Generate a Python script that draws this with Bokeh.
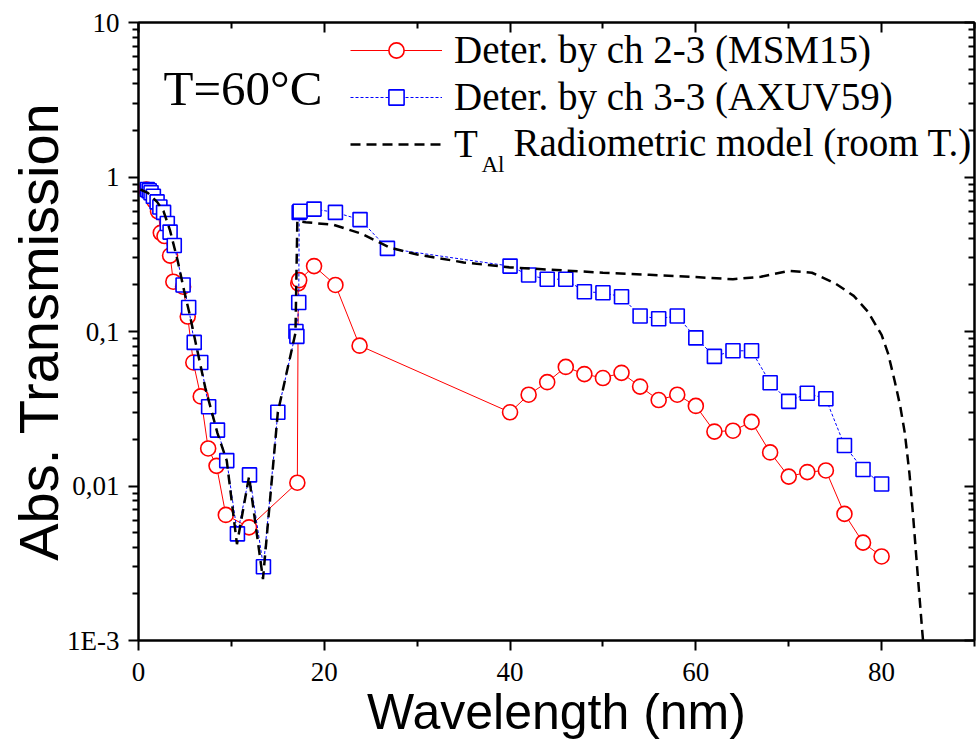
from bokeh.plotting import figure
from bokeh.models import (FixedTicker, CustomJSTickFormatter, LinearAxis, LogAxis,
                          Legend, LegendItem, Label, Range1d)
from bokeh.embed import file_html
from bokeh.resources import INLINE

# ---------------- data ----------------
RED_X = [0.85, 1.0, 1.2, 1.4, 1.7, 2.1, 2.4, 2.8, 3.4, 3.75, 4.8, 5.3, 5.9, 6.7,
         7.5, 8.4, 9.4, 11.9, 17.1, 17.2, 17.3, 18.9, 21.2, 23.8,
         40, 42, 44, 46, 48, 50, 52, 54, 56, 58, 60, 62, 64, 66, 68, 70, 72, 74,
         76, 78, 80]
RED_Y = [0.83, 0.82, 0.80, 0.77, 0.70, 0.60, 0.435, 0.415, 0.31, 0.21, 0.195,
         0.125, 0.063, 0.038, 0.0175, 0.0135, 0.0065, 0.0054, 0.0105, 0.205,
         0.215, 0.265, 0.20, 0.081,
         0.030, 0.039, 0.047, 0.059, 0.053, 0.050, 0.054, 0.044, 0.036, 0.039,
         0.033, 0.0225, 0.0228, 0.026, 0.0165, 0.0115, 0.0123, 0.0126, 0.0066,
         0.0043, 0.0035]

BLUE_X = [0.95, 1.15, 1.35, 1.6, 2.0, 2.3, 2.7, 3.1, 3.4, 3.85, 4.8, 5.4, 6.0,
          6.7, 7.55, 8.5, 9.5, 10.65, 11.95, 13.45, 15.0, 16.95, 17.05, 17.25,
          17.3, 17.4, 18.9, 21.2, 23.85, 26.8,
          40, 42, 44, 46, 48, 50, 52, 54, 56, 58, 60, 62, 64, 66, 68, 70, 72, 74,
          76, 78, 80]
BLUE_Y = [0.83, 0.815, 0.79, 0.75, 0.69, 0.64, 0.59, 0.50, 0.44, 0.36, 0.20,
          0.143, 0.085, 0.063, 0.0326, 0.023, 0.0146, 0.0049, 0.0118, 0.0030,
          0.030, 0.100, 0.093, 0.154, 0.59, 0.60, 0.62, 0.59, 0.53, 0.345,
          0.265, 0.232, 0.218, 0.218, 0.181, 0.178, 0.168, 0.126, 0.121, 0.126,
          0.091, 0.069, 0.075, 0.075, 0.0466, 0.0353, 0.0398, 0.0367, 0.0183,
          0.0128, 0.0103]

MODEL_X = [0.2, 1.0, 2.0, 2.7, 3.4, 4.2, 4.9, 5.5, 6.2, 7.2, 8.5, 9.5, 10.6,
           11.9, 13.4, 15.0, 16.9, 17.1, 18.0, 21.0, 24.0, 27.0, 30.0, 35.0,
           40.0, 45.0, 50.0, 55.0, 60.0, 64.0, 67.0, 70.0, 72.5, 75.0, 77.0,
           78.5, 80.0, 80.7, 81.4, 82.0, 82.5, 83.0, 83.4, 83.9, 84.4, 84.7]
MODEL_Y = [0.83, 0.79, 0.69, 0.60, 0.45, 0.29, 0.185, 0.13, 0.082, 0.043, 0.022,
           0.0146, 0.0042, 0.0115, 0.0025, 0.030, 0.098, 0.52, 0.51, 0.49, 0.43,
           0.35, 0.315, 0.28, 0.26, 0.25, 0.24, 0.233, 0.225, 0.218, 0.226,
           0.247, 0.24, 0.205, 0.17, 0.135, 0.095, 0.072, 0.048, 0.033, 0.022,
           0.012, 0.0063, 0.0026, 0.0011, 0.0007]

SERIES_LABELS = ["Deter. by ch 2-3 (MSM15)", "Deter. by ch 3-3 (AXUV59)", "T"]
MODEL_SUB = "Al"
MODEL_REST = "Radiometric model (room T.)"
ANNOTATION = "T=60°C"
X_TITLE = "Wavelength (nm)"
Y_TITLE = "Abs. Transmission"

X_TICKS = [0, 20, 40, 60, 80]
X_MINOR = [10, 30, 50, 70, 90]
Y_TICKS = [0.001, 0.01, 0.1, 1, 10]
Y_TICK_LABELS = ["1E-3", "0,01", "0,1", "1", "10"]

SERIF = "Liberation Serif"
SANS = "Liberation Sans"

y_minor = [m * d for d in [0.001, 0.01, 0.1, 1] for m in range(2, 10)]

p = figure(width=976, height=750, x_range=Range1d(0, 90), y_range=Range1d(1e-3, 10),
           y_axis_type="log", output_backend="svg", toolbar_location=None,
           min_border_left=138, min_border_right=2, min_border_top=22,
           min_border_bottom=110)
p.grid.visible = False
p.outline_line_color = "black"
p.outline_line_width = 2
p.background_fill_color = "white"
p.border_fill_color = "white"

xticker = FixedTicker(ticks=X_TICKS, minor_ticks=X_MINOR)
yticker = FixedTicker(ticks=Y_TICKS, minor_ticks=y_minor)

yfmt = CustomJSTickFormatter(args=dict(vals=Y_TICKS, labels=Y_TICK_LABELS), code="""
for (let i = 0; i < vals.length; i++) {
  if (Math.abs(Math.log10(tick) - Math.log10(vals[i])) < 1e-6) { return labels[i]; }
}
return '';
""")
blank = CustomJSTickFormatter(code="return '';")


def style(ax, inside=False):
    ax.axis_line_color = "black"
    ax.axis_line_width = 2
    ax.major_tick_line_width = 2
    ax.minor_tick_line_width = 2
    ax.major_tick_line_color = "black"
    ax.minor_tick_line_color = "black"
    if inside:
        ax.major_tick_in = 10
        ax.major_tick_out = 0
        ax.minor_tick_in = 6
        ax.minor_tick_out = 0
        ax.major_label_standoff = 0
    else:
        ax.major_tick_in = 0
        ax.major_tick_out = 10
        ax.minor_tick_in = 0
        ax.minor_tick_out = 6
    ax.major_label_text_font = SERIF
    ax.major_label_text_font_size = "27px"
    ax.major_label_text_color = "black"
    ax.axis_label_text_font = SANS
    ax.axis_label_text_font_style = "normal"
    ax.axis_label_text_color = "black"


xa = p.xaxis[0]
xa.ticker = xticker
style(xa)
xa.major_label_standoff = 12
xa.axis_label = X_TITLE
xa.axis_label_text_font_size = "50px"
xa.axis_label_standoff = 0

ya = p.yaxis[0]
ya.ticker = yticker
ya.formatter = yfmt
style(ya)
ya.major_label_standoff = 9
ya.axis_label = Y_TITLE
ya.axis_label_text_font_size = "56px"
ya.axis_label_standoff = -6

top = LinearAxis(ticker=xticker, formatter=blank)
style(top, inside=True)
p.add_layout(top, "above")
right = LogAxis(ticker=yticker, formatter=blank)
style(right, inside=True)
p.add_layout(right, "right")

# ---------------- series ----------------
r_line = p.line(RED_X, RED_Y, line_color="#ff0000", line_width=1)
r_pts = p.scatter(RED_X, RED_Y, marker="circle", size=15, line_color="#ff0000",
                  line_width=1.6, fill_color="white")
b_line = p.line(BLUE_X, BLUE_Y, line_color="#0000ff", line_width=1, line_dash="3 2")
b_pts = p.scatter(BLUE_X, BLUE_Y, marker="square", size=14, line_color="#0000ff",
                  line_width=1.6, fill_color="white")
m_line = p.line(MODEL_X, MODEL_Y, line_color="black", line_width=2.5, line_dash="10 6")

legend = Legend(items=[LegendItem(label=SERIES_LABELS[0], renderers=[r_line, r_pts]),
                       LegendItem(label=SERIES_LABELS[1], renderers=[b_line, b_pts]),
                       LegendItem(label=SERIES_LABELS[2], renderers=[m_line])],
                location=(212, 473), glyph_width=92, glyph_height=38, label_height=47,
                spacing=0, padding=0, margin=0, label_standoff=12,
                label_text_font=SERIF, label_text_font_size="39px",
                label_text_color="black",
                border_line_color=None, background_fill_alpha=0)
p.add_layout(legend)

p.add_layout(Label(x=343, y=476, x_units="screen", y_units="screen", text=MODEL_SUB,
                   text_font=SERIF, text_font_size="23px", text_baseline="alphabetic",
                   text_color="black"))
p.add_layout(Label(x=375, y=498, x_units="screen", y_units="screen", text=MODEL_REST,
                   text_font=SERIF, text_font_size="39px", text_baseline="alphabetic",
                   text_color="black"))
p.add_layout(Label(x=25, y=552, x_units="screen", y_units="screen", text=ANNOTATION,
                   text_font=SERIF, text_font_size="49px", text_baseline="alphabetic",
                   text_color="black"))

open("out.html", "w").write(file_html(p, INLINE))
